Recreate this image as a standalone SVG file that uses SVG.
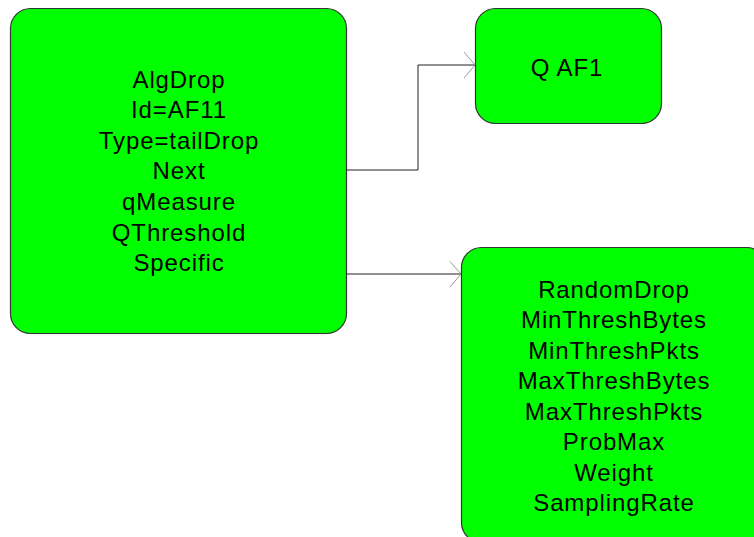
<svg xmlns="http://www.w3.org/2000/svg" width="754" height="537" viewBox="0 0 754 537">
<defs>
<style>
.node{fill:#00ff00;stroke:#333333;stroke-width:1.2}
.lbl{font-family:"Liberation Sans",Arial,sans-serif;font-size:24px;letter-spacing:0.9px;fill:#000;text-anchor:middle}
.conn{fill:none;stroke:#222222;stroke-width:1}
.head{fill:none;stroke:#999999;stroke-width:1}
</style>
</defs>
<rect width="754" height="537" fill="#ffffff"/>
<g id="connectors">
<polyline class="conn" points="346,170 418,170 418,65 475,65"/>
<polyline class="head" points="464,52 475,65 464,78"/>
<polyline class="conn" points="346,274 461,274"/>
<polyline class="head" points="450,261.5 461,274 450,287"/>
</g>
<g id="node-algdrop">
<rect class="node" x="10.5" y="8.5" width="336" height="325" rx="20" ry="20"/>
<text class="lbl" x="179" y="87.5">AlgDrop</text>
<text class="lbl" x="179" y="118.1">Id=AF11</text>
<text class="lbl" x="179" y="148.7">Type=tailDrop</text>
<text class="lbl" x="179" y="179.3">Next</text>
<text class="lbl" x="179" y="209.9">qMeasure</text>
<text class="lbl" x="179" y="240.5">QThreshold</text>
<text class="lbl" x="179" y="271.1">Specific</text>
</g>
<g id="node-qaf1">
<rect class="node" x="475.5" y="8.5" width="186" height="115" rx="20" ry="20"/>
<text class="lbl" x="567" y="75.5">Q AF1</text>
</g>
<g id="node-randomdrop">
<rect class="node" x="461.5" y="247.5" width="305" height="295" rx="20" ry="20"/>
<text class="lbl" x="614" y="297.5">RandomDrop</text>
<text class="lbl" x="614" y="328">MinThreshBytes</text>
<text class="lbl" x="614" y="358.5">MinThreshPkts</text>
<text class="lbl" x="614" y="389">MaxThreshBytes</text>
<text class="lbl" x="614" y="419.5">MaxThreshPkts</text>
<text class="lbl" x="614" y="450">ProbMax</text>
<text class="lbl" x="614" y="480.5">Weight</text>
<text class="lbl" x="614" y="511">SamplingRate</text>
</g>
</svg>
